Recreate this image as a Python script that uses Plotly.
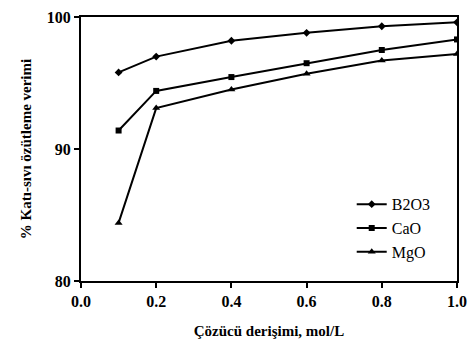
import plotly.graph_objects as go

x_vals = [0.1, 0.2, 0.4, 0.6, 0.8, 1.0]
b2o3 = [95.8, 97.0, 98.2, 98.8, 99.3, 99.6]
cao = [91.4, 94.4, 95.45, 96.5, 97.5, 98.3]
mgo = [84.4, 93.1, 94.5, 95.7, 96.7, 97.2]
series_names = ["B2O3", "CaO", "MgO"]
x_ticks = [0.0, 0.2, 0.4, 0.6, 0.8, 1.0]
x_tick_labels = ["0.0", "0.2", "0.4", "0.6", "0.8", "1.0"]
y_ticks = [80, 90, 100]
y_tick_labels = ["80", "90", "100"]

font_fam = "Liberation Serif"
fig = go.Figure()
for name, vals, sym, sz in zip(series_names, [b2o3, cao, mgo],
                               ["diamond", "square", "triangle-up"], [6, 6, 7]):
    fig.add_trace(go.Scatter(x=x_vals, y=vals, name=name, mode="lines+markers",
                             legendgroup=name,
                             line=dict(color="black", width=2),
                             marker=dict(symbol=sym, size=sz, color="black")))

fig.update_layout(
    width=476, height=356,
    margin=dict(l=81, r=18, t=9, b=75),
    paper_bgcolor="white", plot_bgcolor="white",
    font=dict(family=font_fam, color="black", size=14),
    showlegend=True,
    legend=dict(x=0.72, y=0.355, xanchor="left", yanchor="top",
                bgcolor="rgba(0,0,0,0)", font=dict(size=16, family=font_fam),
                itemwidth=30, tracegroupgap=0),
    xaxis=dict(range=[0, 1.0], tickvals=x_ticks,
               ticktext=["<b>%s</b>" % t for t in x_tick_labels],
               ticks="outside", ticklen=5, tickwidth=2, tickcolor="black",
               showline=True, linecolor="black", linewidth=2, mirror=True,
               showgrid=False, zeroline=False,
               tickfont=dict(size=16, family=font_fam),
               title=dict(text="<b>Çözücü derişimi, mol/L</b>", font=dict(size=15, family=font_fam),
                          standoff=16)),
    yaxis=dict(range=[80, 100], tickvals=y_ticks,
               ticktext=["<b>%s</b>" % t for t in y_tick_labels],
               ticks="outside", ticklen=5, tickwidth=2, tickcolor="black",
               showline=True, linecolor="black", linewidth=2, mirror=True,
               showgrid=False, zeroline=False,
               tickfont=dict(size=16, family=font_fam),
               title=dict(text="<b>% Katı-sıvı özütleme verimi</b>", font=dict(size=15, family=font_fam),
                          standoff=12)),
)
fig.write_html("out.html")
